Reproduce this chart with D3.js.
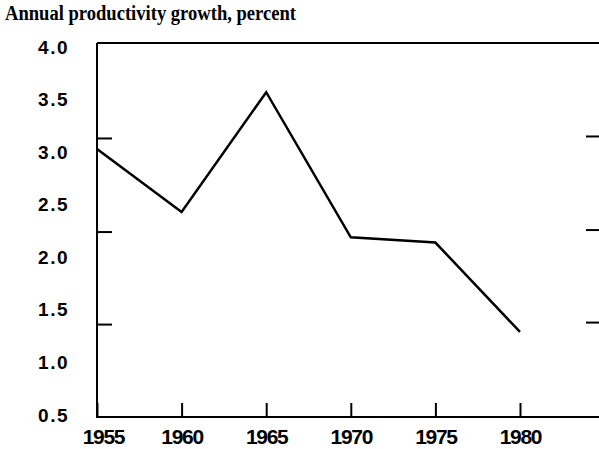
<!DOCTYPE html>
<html>
<head>
<meta charset="utf-8">
<script src="https://cdn.jsdelivr.net/npm/d3@7"></script>
<style>
  html, body { margin: 0; padding: 0; background: #fff; }
  svg { display: block; }
</style>
</head>
<body>
<svg id="chart" width="599" height="449"></svg>
<script>
// ---- data ----
const years = [1955, 1960, 1965, 1970, 1975, 1980];
const growth = [3.03, 2.43, 3.57, 2.19, 2.14, 1.29];
const yTickValues = [4.0, 3.5, 3.0, 2.5, 2.0, 1.5, 1.0, 0.5];
const yTickLabels = ["4.0", "3.5", "3.0", "2.5", "2.0", "1.5", "1.0", "0.5"];
const xTickValues = [1955, 1960, 1965, 1970, 1975, 1980];
const frameTicks = [3.13, 2.24, 1.36];
const title = "Annual productivity growth, percent";

// ---- layout ----
const pLeft = 97, pRight = 599, pTop = 43, pBottom = 417;
const svg = d3.select("#chart");

const x = d3.scaleLinear().domain([1955, 1980]).range([pLeft, 520]);
const y = d3.scaleLinear().domain([0.5, 4.0]).range([415, 47]);

// title
svg.append("text")
  .attr("x", 5).attr("y", 20)
  .attr("font-family", "'Liberation Serif', 'Times New Roman', serif")
  .attr("font-weight", "bold")
  .attr("font-size", 20)
  .attr("textLength", 291)
  .attr("lengthAdjust", "spacingAndGlyphs")
  .attr("fill", "#000")
  .text(title);

// frame lines
const frame = svg.append("g").attr("stroke", "#000").attr("stroke-width", 2).attr("fill", "none");
frame.append("line").attr("x1", pLeft).attr("x2", pLeft).attr("y1", pTop).attr("y2", pBottom);
frame.append("line").attr("x1", pLeft).attr("x2", pRight).attr("y1", pTop).attr("y2", pTop);
frame.append("line").attr("x1", pLeft - 1).attr("x2", pRight).attr("y1", pBottom).attr("y2", pBottom);

// inner frame ticks (left and right)
frame.selectAll("line.lt").data(frameTicks).join("line")
  .attr("class", "lt")
  .attr("x1", pLeft).attr("x2", pLeft + 15)
  .attr("y1", d => y(d)).attr("y2", d => y(d));
frame.selectAll("line.rt").data(frameTicks).join("line")
  .attr("class", "rt")
  .attr("x1", pRight - 13).attr("x2", pRight)
  .attr("y1", d => y(d) - 2).attr("y2", d => y(d) - 2);

// y axis labels
const yAxis = d3.axisLeft(y)
  .tickValues(yTickValues)
  .tickFormat((d, i) => yTickLabels[i])
  .tickSize(0)
  .tickPadding(28);
const gy = svg.append("g").attr("transform", `translate(${pLeft},0)`).call(yAxis);
gy.select(".domain").remove();
gy.selectAll("text")
  .attr("font-family", "'Liberation Sans', Arial, sans-serif")
  .attr("font-weight", "bold")
  .attr("font-size", 19)
  .attr("letter-spacing", "1.5px")
  .attr("fill", "#000");

// x axis
const xAxis = d3.axisBottom(x)
  .tickValues(xTickValues)
  .tickFormat(d3.format("d"))
  .tickSizeInner(-14)
  .tickSizeOuter(0)
  .tickPadding(26);
const gx = svg.append("g").attr("transform", `translate(0,${pBottom})`).call(xAxis);
gx.select(".domain").remove();
gx.selectAll(".tick line").attr("stroke", "#000").attr("stroke-width", 2);
gx.selectAll("text")
  .attr("font-family", "'Liberation Sans', Arial, sans-serif")
  .attr("font-weight", "bold")
  .attr("font-size", 21)
  .attr("letter-spacing", "-1.3px")
  .attr("fill", "#000")
  .attr("dy", "0")
  .attr("y", 27);
gx.selectAll(".tick").filter(d => d === 1955).select("text").attr("dx", 6);

// data line
svg.append("path")
  .datum(years.map((yr, i) => [yr, growth[i]]))
  .attr("fill", "none")
  .attr("stroke", "#000")
  .attr("stroke-width", 2.5)
  .attr("stroke-linejoin", "miter")
  .attr("d", d3.line().x(d => x(d[0])).y(d => y(d[1])));
</script>
</body>
</html>
